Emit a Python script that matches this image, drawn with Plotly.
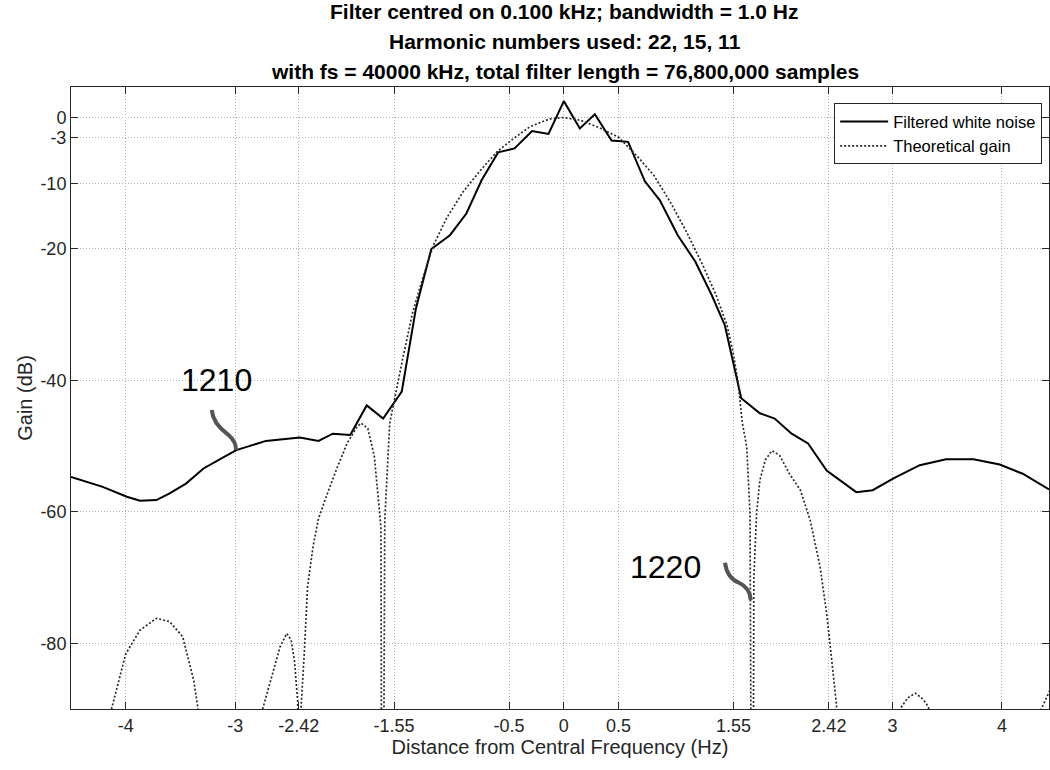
import plotly.graph_objects as go

# ---------------- data ----------------
noise_x = [-4.5, -4.21, -3.99, -3.87, -3.72, -3.6, -3.45, -3.29, -3.11, -2.99, -2.72,
           -2.41, -2.24, -2.11, -1.95, -1.80, -1.65, -1.48, -1.35, -1.21, -1.04, -0.89,
           -0.75, -0.60, -0.45, -0.29, -0.14, 0.0, 0.146, 0.283, 0.436, 0.587, 0.74,
           0.877, 1.04, 1.20, 1.35, 1.47, 1.62, 1.79, 1.925, 2.08, 2.23, 2.40, 2.67,
           2.82, 3.01, 3.25, 3.49, 3.74, 3.98, 4.19, 4.43]
noise_db = [-54.7, -56.2, -57.7, -58.3, -58.2, -57.2, -55.7, -53.4, -51.7, -50.6, -49.2,
            -48.7, -49.2, -48.1, -48.3, -43.8, -45.8, -41.7, -29.0, -20.0, -17.9, -14.6,
            -9.5, -5.3, -4.7, -2.05, -2.5, 2.5, -1.65, 0.5, -3.5, -3.7, -9.7,
            -12.6, -17.9, -21.9, -27.0, -31.6, -42.7, -45.0, -45.8, -48.1, -49.6, -53.7, -57.0,
            -56.7, -54.9, -52.9, -52.0, -52.0, -52.8, -54.2, -56.6]

theory_x = [-4.45, -4.13, -4.0, -3.87, -3.72, -3.6, -3.48, -3.38, -3.34, -3.05,
            -2.75, -2.65, -2.59, -2.53, -2.49, -2.46, -2.43, -2.425, -2.40, -2.37,
            -2.34, -2.29, -2.24, -2.17, -2.08, -1.98, -1.89, -1.85, -1.79, -1.73,
            -1.70, -1.67, -1.657, -1.635, -1.59, -1.54, -1.47, -1.38, -1.28, -1.19,
            -1.07, -0.92, -0.77, -0.61, -0.46, -0.31, -0.13, 0.0, 0.15, 0.33,
            0.50, 0.66, 0.82, 0.97, 1.12, 1.27, 1.39, 1.49, 1.55, 1.59,
            1.63, 1.67, 1.70, 1.723, 1.735, 1.76, 1.79, 1.84, 1.90, 1.97,
            2.06, 2.16, 2.25, 2.34, 2.40, 2.44, 2.49, 2.52, 2.8, 3.07,
            3.14, 3.21, 3.28, 3.33, 3.36, 3.9, 4.36, 4.44, 4.5]
theory_db = [-120, -90, -81.6, -78.0, -76.2, -76.7, -79.0, -85.6, -90, -120,
             -90, -84.1, -80.5, -78.5, -79.5, -82.6, -88.9, -130, -90, -81.5,
             -71.4, -65.3, -61.0, -57.7, -53.7, -49.6, -47.1, -46.5, -47.3, -51.6,
             -56.7, -62.3, -150, -61.3, -46.5, -42.2, -36.6, -29.6, -24.0, -19.4,
             -15.3, -11.3, -8.2, -5.2, -3.2, -1.4, -0.2, 0.0, -0.4, -1.6,
             -3.0, -5.7, -8.75, -12.8, -17.4, -22.5, -27.0, -31.6, -36.1, -40.2,
             -46.5, -50.1, -60.2, -150, -70.0, -60.2, -55.2, -52.1, -50.7, -51.4,
             -54.2, -56.7, -61.3, -68.4, -75.5, -81.6, -89.4, -130, -120, -90,
             -88.3, -87.6, -88.5, -89.7, -120, -120, -90, -87.1, -84.0]

x_ticks = [-4, -3, -2.42, -1.55, -0.5, 0, 0.5, 1.55, 2.42, 3, 4]
x_tick_text = ["-4", "-3", "-2.42", "-1.55", "-0.5", "0", "0.5", "1.55", "2.42", "3", "4"]
y_ticks = [-80, -60, -40, -20, -10, -3, 0]
y_tick_text = ["-80", "-60", "-40", "-20", "-10", "-3", "0"]

title_lines = ["Filter centred on 0.100 kHz; bandwidth = 1.0 Hz",
               "Harmonic numbers used: 22, 15, 11",
               "with fs = 40000 kHz, total filter length = 76,800,000 samples"]

FONT = "Liberation Sans, Arial, Helvetica, sans-serif"
AX = "#262626"

fig = go.Figure()
fig.add_trace(go.Scatter(x=noise_x, y=noise_db, mode="lines", name="Filtered white noise",
                         line=dict(color="black", width=2)))
fig.add_trace(go.Scatter(x=theory_x, y=theory_db, mode="lines", name="Theoretical gain",
                         line=dict(color="#2a2a2a", width=1.7, dash="2px,2px")))

axis_common = dict(showline=True, linecolor=AX, linewidth=1, mirror="ticks",
                   ticks="inside", ticklen=7, tickcolor=AX, showgrid=True,
                   gridcolor="#b0b0b0", griddash="1px,2px", gridwidth=1, zeroline=False,
                   tickfont=dict(family=FONT, size=18, color=AX))

fig.update_xaxes(range=[-4.5, 4.43], tickmode="array", tickvals=x_ticks, ticktext=x_tick_text,
                 title=dict(text="Distance from Central Frequency (Hz)",
                            font=dict(family=FONT, size=20, color=AX), standoff=2),
                 **axis_common)
fig.update_yaxes(range=[-90, 4.65], tickmode="array", tickvals=y_ticks, ticktext=y_tick_text,
                 title=dict(text="Gain (dB)", font=dict(family=FONT, size=20, color=AX), standoff=2),
                 **axis_common)

annotations = []
for txt, yp in zip(title_lines, [1.121, 1.0725, 1.025]):
    annotations.append(dict(text="<b>%s</b>" % txt, x=0.505, y=yp, xref="paper", yref="paper",
                            showarrow=False, xanchor="center", yanchor="middle",
                            font=dict(family=FONT, size=21, color="black")))
annotations.append(dict(text="1210", x=0.1483, y=0.529, xref="paper", yref="paper", showarrow=False,
                        xanchor="center", yanchor="middle", font=dict(family=FONT, size=32, color="black")))
annotations.append(dict(text="1220", x=0.6074, y=0.2283, xref="paper", yref="paper", showarrow=False,
                        xanchor="center", yanchor="middle", font=dict(family=FONT, size=32, color="black")))

shapes = [
    dict(type="path", xref="paper", yref="paper",
         path="M 0.1439,0.4807 C 0.1450,0.4620 0.1530,0.4500 0.1600,0.4420 C 0.1660,0.4340 0.1690,0.4250 0.1687,0.4164",
         line=dict(color="#555555", width=4)),
    dict(type="path", xref="paper", yref="paper",
         path="M 0.6687,0.2352 C 0.6700,0.2200 0.6750,0.2080 0.6830,0.2030 C 0.6900,0.1980 0.6945,0.1880 0.6950,0.1752",
         line=dict(color="#555555", width=4)),
]

fig.update_layout(
    width=1050, height=770,
    margin=dict(l=71, r=1, t=87, b=61),
    paper_bgcolor="white", plot_bgcolor="white",
    font=dict(family=FONT, color=AX),
    showlegend=True,
    legend=dict(x=0.993, y=0.974, xanchor="right", yanchor="top",
                bgcolor="white", bordercolor=AX, borderwidth=1,
                font=dict(family=FONT, size=16.5, color="black"),
                tracegroupgap=0, itemwidth=48),
    annotations=annotations,
    shapes=shapes,
)

fig.write_html("out.html")
